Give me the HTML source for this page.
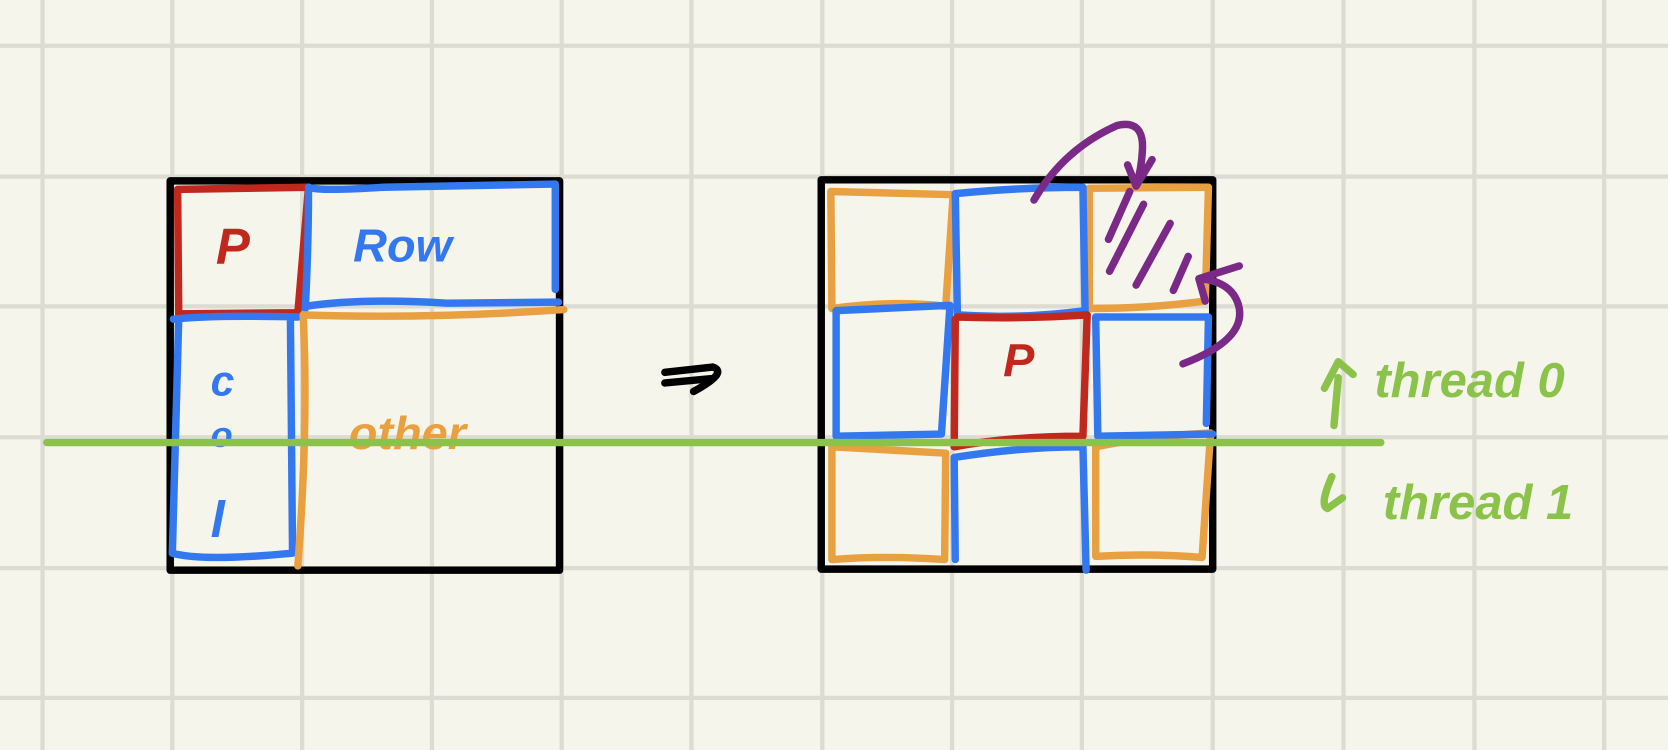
<!DOCTYPE html>
<html><head><meta charset="utf-8"><style>
html,body{margin:0;padding:0;background:#f6f5ec;}
svg{display:block;}
text{font-family:"Liberation Sans",sans-serif;}
</style></head><body>
<svg width="1668" height="750" viewBox="0 0 1568 705" preserveAspectRatio="none" xmlns="http://www.w3.org/2000/svg">
<rect width="1568" height="705" fill="#f6f5ec"/>
<g stroke="#dddcd2" stroke-width="4">
<line x1="40" y1="0" x2="40" y2="705"/><line x1="162" y1="0" x2="162" y2="705"/><line x1="284" y1="0" x2="284" y2="705"/><line x1="406" y1="0" x2="406" y2="705"/><line x1="528" y1="0" x2="528" y2="705"/><line x1="650" y1="0" x2="650" y2="705"/><line x1="773" y1="0" x2="773" y2="705"/><line x1="895" y1="0" x2="895" y2="705"/><line x1="1017" y1="0" x2="1017" y2="705"/><line x1="1140" y1="0" x2="1140" y2="705"/><line x1="1263" y1="0" x2="1263" y2="705"/><line x1="1386" y1="0" x2="1386" y2="705"/><line x1="1508" y1="0" x2="1508" y2="705"/>
<line x1="0" y1="43" x2="1568" y2="43"/><line x1="0" y1="166" x2="1568" y2="166"/><line x1="0" y1="288" x2="1568" y2="288"/><line x1="0" y1="411" x2="1568" y2="411"/><line x1="0" y1="534" x2="1568" y2="534"/><line x1="0" y1="656" x2="1568" y2="656"/>
</g>
<g fill="none" stroke-linecap="round" stroke-linejoin="round" stroke-width="7">
<rect x="160" y="170" width="366" height="366" stroke="#000"/>
<path d="M167 178 L290 176 L280 294 L168 295 Z" stroke="#c0281e"/>
<path d="M290 176 Q300 180 360 176 L522 173 L522 272 M287 290 Q290 230 290 180 M287 288 Q340 280 420 285 L525 284" stroke="#3478f0"/>
<path d="M163 300 Q200 296 280 298 M168 300 L162 520 Q190 528 275 520 L273 300" stroke="#3478f0"/>
<path d="M285 296 Q400 300 530 291 M285 296 Q290 400 280 532" stroke="#e8a040"/>
<text x="203" y="248" font-size="48" fill="#c0281e" font-style="italic" font-weight="bold" stroke="none">P</text>
<text x="332" y="246" font-size="44" fill="#3478f0" font-style="italic" font-weight="bold" stroke="none">Row</text>
<text x="198" y="372" font-size="40" fill="#3478f0" font-style="italic" font-weight="bold" stroke="none">c</text>
<text x="198" y="420" font-size="34" fill="#3478f0" font-style="italic" font-weight="bold" stroke="none">o</text>
<text x="198" y="505" font-size="48" fill="#3478f0" font-style="italic" font-weight="bold" stroke="none">l</text>
<text x="328" y="422" font-size="44" fill="#e8a040" font-style="italic" font-weight="bold" stroke="none">other</text>
<path d="M625 350 L670 345 Q685 350 652 368 M625 360 L668 356" stroke="#000"/>
<rect x="772" y="169" width="368" height="366" stroke="#000"/>
<g stroke="#e8a040">
<path d="M781 180 L896 183 L889 288 Q840 282 782 290 Z"/>
<path d="M1024 177 L1136 176 L1133 283 Q1080 290 1024 290 Z"/>
<path d="M782 420 L889 426 L888 526 Q830 522 782 526 Z"/>
<path d="M1030 420 Q1080 410 1138 407 L1130 524 Q1080 520 1030 523 Z"/>
</g>
<g stroke="#3478f0">
<path d="M898 182 Q960 176 1018 176 L1020 292 Q960 300 900 296 Z"/>
<path d="M786 292 L893 287 L885 408 L786 410 Z"/>
<path d="M1030 298 L1136 298 L1134 398 M1030 298 L1032 410 L1140 408"/>
<path d="M897 430 Q960 420 1018 420 L1021 536 M897 430 L898 526"/>
</g>
<path d="M900 298 Q960 300 1022 296 L1018 410 Q950 410 897 420 L898 300" stroke="#c0281e"/>
<text x="943" y="354" font-size="44" fill="#c0281e" font-style="italic" font-weight="bold" stroke="none">P</text>
<g stroke="#7a2a86">
<path d="M1062 180 L1042 225 M1075 192 L1043 255 M1100 210 L1068 268 M1117 241 L1103 273"/>
<path d="M972 188 Q1000 140 1050 118 Q1075 112 1074 140 Q1073 160 1068 175 M1060 155 L1068 175 L1083 150"/>
<path d="M1112 342 Q1170 320 1165 290 Q1160 265 1128 262 M1127 262 L1133 283 M1127 262 L1165 250"/>
</g>
<line x1="44" y1="416" x2="1298" y2="416" stroke="#8bc34a" stroke-width="7"/>
<path d="M1254 400 L1258 355 M1245 365 L1258 340 L1272 352" stroke="#8bc34a"/>
<path d="M1252 448 Q1240 475 1248 478 L1262 468" stroke="#8bc34a"/>
</g>
<text x="1292" y="373" font-size="46" fill="#8bc34a" font-style="italic" font-weight="bold">thread 0</text>
<text x="1300" y="488" font-size="46" fill="#8bc34a" font-style="italic" font-weight="bold">thread 1</text>
</svg>
</body></html>
